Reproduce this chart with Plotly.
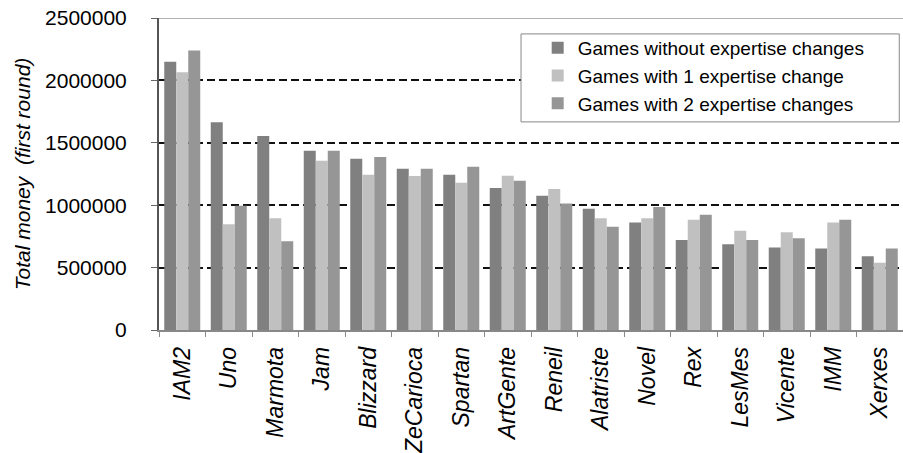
import plotly.graph_objects as go

# Teams (first-round results)
teams = ["IAM2", "Uno", "Marmota", "Jam", "Blizzard", "ZeCarioca", "Spartan",
         "ArtGente", "Reneil", "Alatriste", "Novel", "Rex", "LesMes", "Vicente",
         "IMM", "Xerxes"]

# Total money per team for each game setting
no_change = [2150000, 1665000, 1555000, 1437000, 1372000, 1292000, 1244000,
             1137000, 1075000, 971000, 861000, 722000, 688000, 661000,
             653000, 591000]
one_change = [2065000, 848000, 896000, 1356000, 1244000, 1233000, 1180000,
              1236000, 1129000, 896000, 896000, 883000, 795000, 784000,
              861000, 538000]
two_changes = [2240000, 995000, 712000, 1437000, 1386000, 1292000, 1308000,
               1196000, 1014000, 827000, 985000, 923000, 722000, 736000,
               883000, 653000]

series_names = ["Games without expertise changes",
                "Games with 1 expertise change",
                "Games with 2 expertise changes"]
y_ticks = [0, 500000, 1000000, 1500000, 2000000, 2500000]

FONT = "Liberation Sans, Arial, sans-serif"
colors = ["#808080", "#c0c0c0", "#969696"]

fig = go.Figure()
for name, vals, col in zip(series_names, [no_change, one_change, two_changes], colors):
    fig.add_trace(go.Bar(x=teams, y=vals, name=name,
                         marker=dict(color=col, line=dict(width=0))))

fig.update_layout(
    template="none",
    width=903, height=453,
    margin=dict(l=159, r=0, t=18, b=123, autoexpand=False),
    paper_bgcolor="white", plot_bgcolor="white",
    barmode="group", bargap=0.226, bargroupgap=0,
    font=dict(family=FONT, color="#000"),
    showlegend=True,
    legend=dict(x=0.509, y=0.965, xanchor="left", yanchor="top",
                bgcolor="rgba(0,0,0,0)", borderwidth=0,
                font=dict(size=19, family=FONT, color="#000"),
                itemclick=False),
)

fig.update_xaxes(
    type="category", tickson="boundaries", automargin=False,
    ticks="outside", ticklen=5, tickcolor="#888", tickwidth=1,
    showline=True, linecolor="#888", linewidth=1.5,
    tickangle=-90, ticklabelstandoff=6,
    tickfont=dict(size=23, family=FONT, style="italic", color="#000"),
    showgrid=False, zeroline=False,
)

fig.update_yaxes(
    range=[0, 2500000], tickvals=y_ticks, ticktext=[str(v) for v in y_ticks],
    automargin=False,
    ticks="outside", ticklen=6, tickcolor="#666", tickwidth=1,
    ticklabelstandoff=20,
    showline=True, linecolor="#555", linewidth=2,
    showgrid=True, gridcolor="#111", gridwidth=1.5, griddash="8px,4px",
    zeroline=False,
    tickfont=dict(size=21, family=FONT, color="#000"),
    title=dict(text="Total money  (first round)", standoff=9,
               font=dict(size=21, family=FONT, style="italic", color="#000")),
)

# Plot-area top border and white legend frame over the grid
fig.add_shape(type="line", xref="paper", yref="y", x0=0, x1=1, y0=2500000, y1=2500000,
              line=dict(color="#999", width=1.5))
fig.add_shape(type="rect", xref="paper", yref="paper", layer="above",
              x0=0.4866, x1=0.995, y0=0.667, y1=0.949,
              fillcolor="white", line=dict(color="#888", width=1))

fig.write_html("out.html")
